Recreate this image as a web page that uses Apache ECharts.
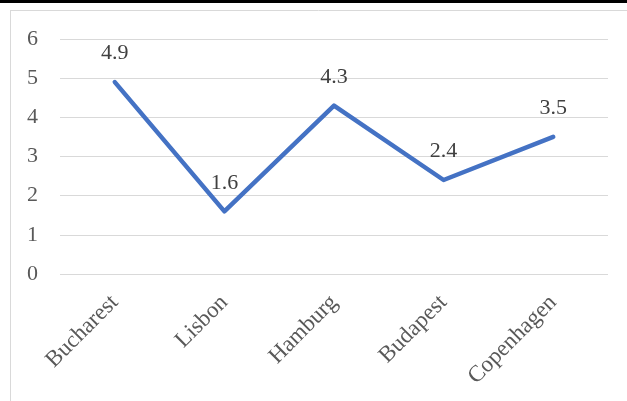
<!DOCTYPE html>
<html><head><meta charset="utf-8">
<script src="https://cdn.jsdelivr.net/npm/echarts@6/dist/echarts.min.js"></script>
<style>html,body{margin:0;padding:0;background:#fff}#c{width:627px;height:401px}</style>
</head><body><div id="c"></div>
<script>
const categories = ['Bucharest','Lisbon','Hamburg','Budapest','Copenhagen'];
const values = [4.9, 1.6, 4.3, 2.4, 3.5];
const yTicks = [0,1,2,3,4,5,6];
const font = '"Liberation Serif", "Times New Roman", serif';
const chart = echarts.init(document.getElementById('c'), null, {renderer:'canvas'});
chart.setOption({
  animation:false,
  grid:{left:60,right:19,top:39,bottom:127},
  graphic:[
    {type:'rect',shape:{x:0,y:0,width:627,height:3},style:{fill:'#000'}},
    {type:'line',shape:{x1:10,y1:10.5,x2:627,y2:10.5},style:{stroke:'#d9d9d9',lineWidth:1}},
    {type:'line',shape:{x1:10.5,y1:10,x2:10.5,y2:401},style:{stroke:'#d9d9d9',lineWidth:1}}
  ],
  xAxis:{type:'category',data:categories,boundaryGap:true,
    axisLine:{show:false},axisTick:{show:false},
    axisLabel:{rotate:45,color:'#595959',fontFamily:font,fontSize:23,margin:25,interval:0}},
  yAxis:{type:'value',min:yTicks[0],max:yTicks[yTicks.length-1],interval:1,
    axisLine:{show:false},axisTick:{show:false},
    splitLine:{lineStyle:{color:'#d9d9d9',width:1}},
    axisLabel:{color:'#595959',fontFamily:font,fontSize:22,margin:22}},
  series:[{type:'line',data:values,symbol:'circle',symbolSize:1,
    itemStyle:{color:'#4472C4'},
    lineStyle:{color:'#4472C4',width:4.5,cap:'round',join:'round'},
    label:{show:true,position:'top',distance:17,color:'#404040',fontFamily:font,fontSize:22}}]
});
</script></body></html>
